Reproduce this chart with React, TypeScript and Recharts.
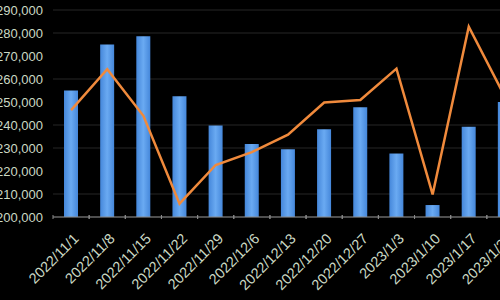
import React from "react";
import { ComposedChart, Bar, Line, XAxis, YAxis, CartesianGrid } from "recharts";

const categories = [
  "2022/11/1", "2022/11/8", "2022/11/15", "2022/11/22", "2022/11/29", "2022/12/6",
  "2022/12/13", "2022/12/20", "2022/12/27", "2023/1/3", "2023/1/10", "2023/1/17", "2023/1/24",
];
const barValues = [
  255000, 275000, 278600, 252500, 239800, 231700, 229500, 238200, 247700, 227600, 205200, 239200, 250000,
];
const lineValues = [
  246500, 264300, 244000, 205800, 222600, 228200, 235800, 249800, 250900, 264500, 209800, 282700, 252300,
];
const yTicks = [200000, 210000, 220000, 230000, 240000, 250000, 260000, 270000, 280000, 290000];

const data = categories.map((c, i) => ({ date: c, bar: barValues[i], line: lineValues[i] }));

const LABEL = "#cbd9c4";
const FONT = "'Liberation Sans', Arial, sans-serif";
const CHART_W = 543;
const Y_W = 73;
const HALF_BAND = (CHART_W - Y_W) / categories.length / 2;

const XTick = (props: any) => {
  const { x, y, payload } = props;
  return (
    <g>
      <line x1={x - HALF_BAND} x2={x - HALF_BAND} y1={y - 8} y2={y - 4} stroke="#8a8a8a" strokeWidth={1} />
      <line x1={x + HALF_BAND} x2={x + HALF_BAND} y1={y - 8} y2={y - 4} stroke="#8a8a8a" strokeWidth={1} />
      <g transform={`translate(${x + 5},${y + 13}) rotate(-45)`}>
        <text textAnchor="end" fill={LABEL} fontSize={14.5} fontFamily={FONT} dy="0.35em">
          {payload.value}
        </text>
      </g>
    </g>
  );
};

export default function App() {
  return (
    <div style={{ position: "absolute", left: 0, top: 0, width: 500, height: 300, overflow: "hidden", background: "#000" }}>
      <div style={{ position: "absolute", left: -20, top: 0 }}>
        <ComposedChart width={CHART_W} height={300} data={data} margin={{ top: 10, right: 0, bottom: 0, left: 0 }}>
          <defs>
            <linearGradient id="barGrad" x1="0" y1="0" x2="1" y2="0">
              <stop offset="0%" stopColor="#4587da" />
              <stop offset="50%" stopColor="#6aaaf2" />
              <stop offset="100%" stopColor="#4587da" />
            </linearGradient>
          </defs>
          <CartesianGrid vertical={false} stroke="#262626" />
          <XAxis
            dataKey="date"
            interval={0}
            height={83}
            axisLine={{ stroke: "#8a8a8a" }}
            tickLine={false}
            tick={<XTick />}
            tickMargin={0}
          />
          <YAxis
            width={Y_W}
            domain={[200000, 290000]}
            ticks={yTicks}
            axisLine={false}
            tickLine={false}
            tickSize={6}
            tickMargin={4}
            tick={{ fill: LABEL, fontSize: 13, fontFamily: FONT }}
            tickFormatter={(v: number) => v.toLocaleString("en-US")}
          />
          <Bar dataKey="bar" barSize={14} fill="url(#barGrad)" isAnimationActive={false} />
          <Line dataKey="line" stroke="#f08a3c" strokeWidth={2.5} dot={false} type="linear" isAnimationActive={false} />
        </ComposedChart>
      </div>
    </div>
  );
}
